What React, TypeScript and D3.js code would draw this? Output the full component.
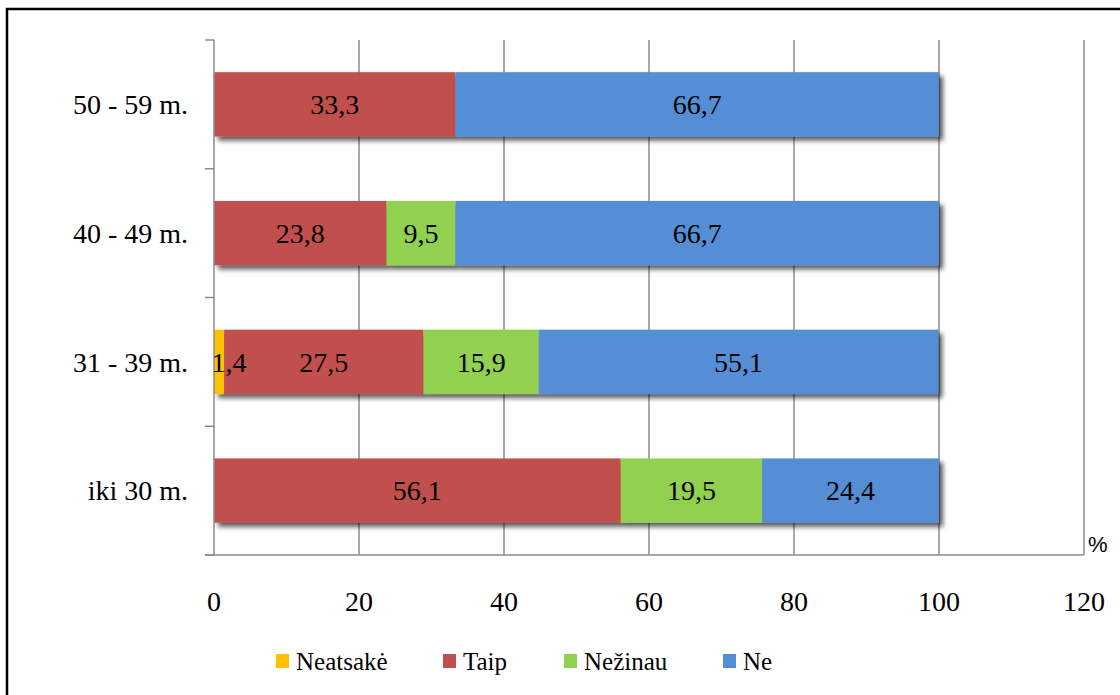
import React from "react";
import * as d3 from "d3";

const categories = ["iki 30 m.", "31 - 39 m.", "40 - 49 m.", "50 - 59 m."];
const seriesNames = ["Neatsakė", "Taip", "Nežinau", "Ne"];
const neatsake = [0, 1.4, 0, 0];
const taip = [56.1, 27.5, 23.8, 33.3];
const nezinau = [19.5, 15.9, 9.5, 0];
const ne = [24.4, 55.1, 66.7, 66.7];
const colors = ["#FFC000", "#C0504D", "#92D050", "#558ED5"];
const xTicks = [0, 20, 40, 60, 80, 100, 120];

const W = 1120;
const H = 695;
const left = 214;
const right = 1084;
const top = 40;
const bottom = 555;
const serif = '"Liberation Serif"';

export default function App() {
  const x = d3.scaleLinear().domain([0, 120]).range([left, right]);
  const yBand = d3
    .scaleBand<string>()
    .domain([...categories].reverse())
    .range([top, bottom])
    .paddingInner(0.5)
    .paddingOuter(0.25);

  const seriesVals = [neatsake, taip, nezinau, ne];
  const rows = categories.map((c, i) => {
    const o: any = { cat: c };
    seriesNames.forEach((s, k) => (o[s] = seriesVals[k][i]));
    return o;
  });
  const stack = d3.stack<any>().keys(seriesNames)(rows);

  const bandStep = (bottom - top) / categories.length;
  const catTicks = d3.range(categories.length + 1).map((i) => top + i * bandStep);

  const legendX = [276, 443, 564, 723];
  const tStyle = { fontFamily: serif } as React.CSSProperties;

  return (
    <svg
      width={W}
      height={H}
      style={{ position: "absolute", left: 0, top: 0, background: "#fff" }}
    >
      <defs>
        <filter id="sh" x="-10%" y="-20%" width="130%" height="160%">
          <feDropShadow dx="4" dy="4" stdDeviation="2.5" floodColor="#000" floodOpacity="0.65" />
        </filter>
      </defs>
      <rect x={0} y={0} width={W} height={H} fill="#fff" />
      <rect x={7} y={9} width={W + 50} height={H + 50} fill="none" stroke="#000" strokeWidth={2.5} />

      {xTicks.slice(1).map((t) => (
        <line key={t} x1={x(t)} x2={x(t)} y1={top} y2={bottom} stroke="#8c8c8c" strokeWidth={1.5} />
      ))}

      {categories.map((c, i) => (
        <g key={c} filter="url(#sh)">
          {stack.map((s, k) => {
            const d = s[i];
            if (d[1] - d[0] <= 0) return null;
            return (
              <rect
                key={k}
                x={x(d[0])}
                y={yBand(c)!}
                width={x(d[1]) - x(d[0])}
                height={yBand.bandwidth()}
                fill={colors[k]}
              />
            );
          })}
        </g>
      ))}

      <line x1={left} x2={left} y1={top} y2={bottom} stroke="#8c8c8c" strokeWidth={1.5} />
      <line x1={205} x2={right} y1={bottom} y2={bottom} stroke="#8c8c8c" strokeWidth={1.5} />
      {catTicks.map((t, i) => (
        <line key={i} x1={205} x2={left} y1={t} y2={t} stroke="#8c8c8c" strokeWidth={1.5} />
      ))}

      {categories.map((c, i) =>
        stack.map((s, k) => {
          const d = s[i];
          if (d[1] - d[0] <= 0) return null;
          return (
            <text
              key={c + k}
              x={(x(d[0]) + x(d[1])) / 2 + (d[1] - d[0] < 3 ? 10 : 0)}
              y={yBand(c)! + yBand.bandwidth() / 2}
              dy="0.35em"
              textAnchor="middle"
              style={tStyle}
              fontSize={28}
              fill="#000"
            >
              {(d[1] - d[0]).toFixed(1).replace(".", ",")}
            </text>
          );
        })
      )}

      {categories.map((c) => (
        <text
          key={c}
          x={188}
          y={yBand(c)! + yBand.bandwidth() / 2}
          dy="0.35em"
          textAnchor="end"
          style={tStyle}
          fontSize={28}
        >
          {c}
        </text>
      ))}

      {xTicks.map((t) => (
        <text key={t} x={x(t)} y={611} textAnchor="middle" style={tStyle} fontSize={28}>
          {t}
        </text>
      ))}

      <text x={1088} y={552} style={{ fontFamily: '"Liberation Sans"' }} fontSize={22}>
        %
      </text>

      {seriesNames.map((s, k) => (
        <g key={s}>
          <rect x={legendX[k]} y={654} width={13} height={14} fill={colors[k]} />
          <text x={legendX[k] + 20} y={670} style={tStyle} fontSize={25}>
            {s}
          </text>
        </g>
      ))}
    </svg>
  );
}
